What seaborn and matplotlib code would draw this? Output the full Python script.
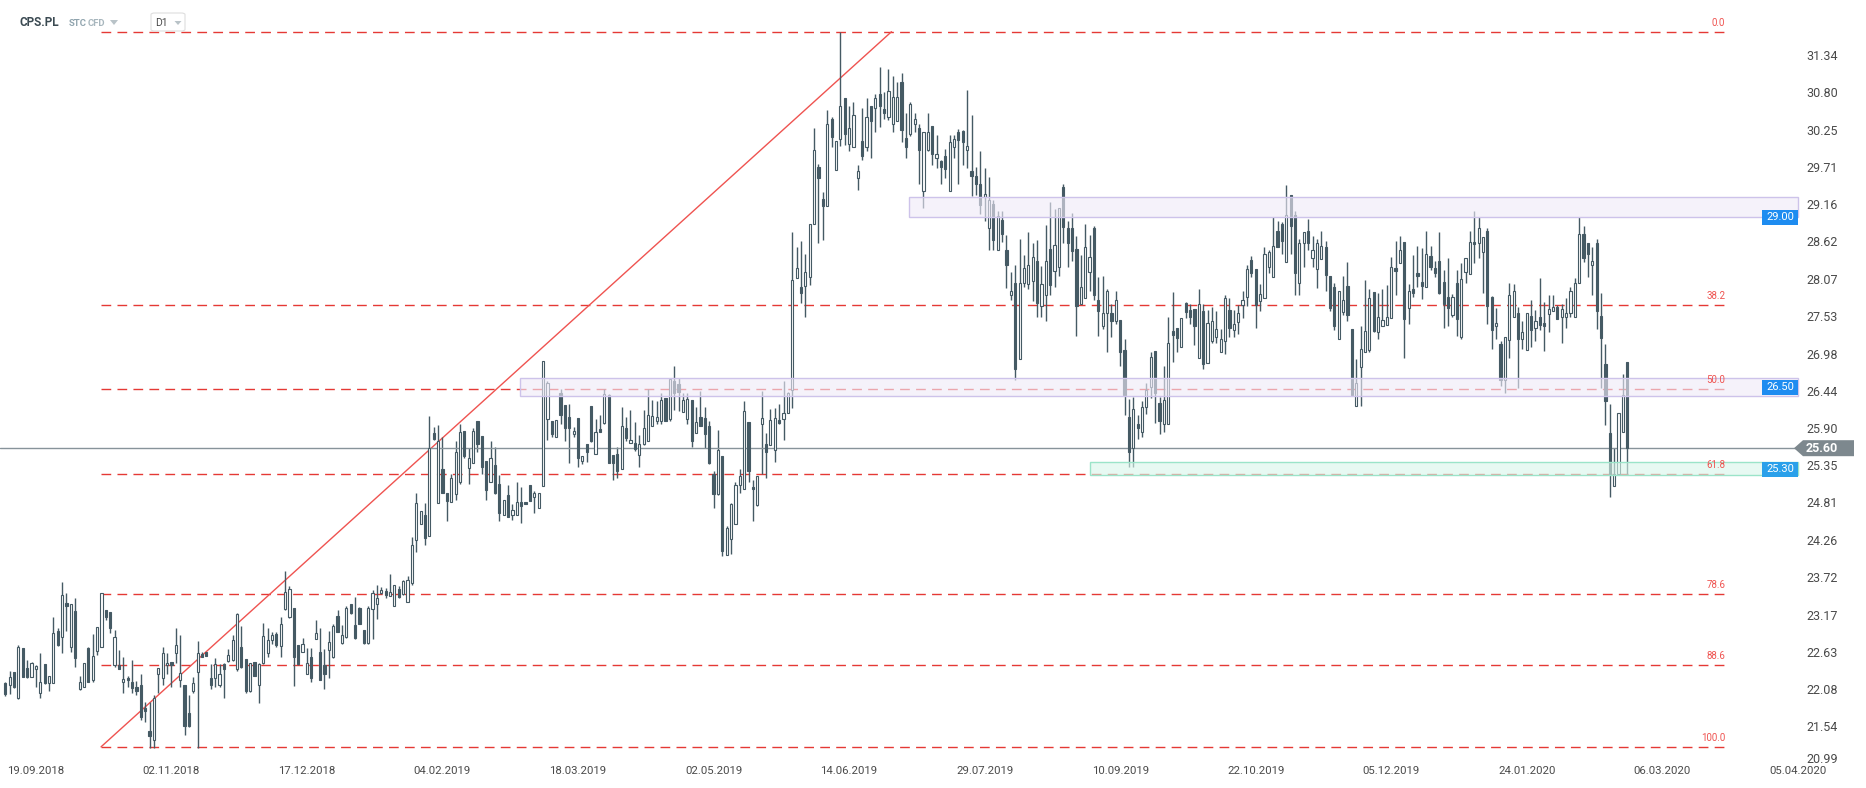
import numpy as np
import pandas as pd
import matplotlib
matplotlib.use("Agg")
import matplotlib.pyplot as plt
import matplotlib.transforms as mtransforms
from matplotlib.patches import Rectangle, Polygon, FancyBboxPatch
from matplotlib.colors import to_rgba
import seaborn as sns

# ---------------- data (daily candles, CPS.PL, D1) ----------------
opens = [
    22.17, 22.15, 22.33, 21.95, 22.68, 22.39, 22.26, 22.38, 22.02, 22.45,
    22.17, 22.17, 22.93, 22.84, 23.34, 22.70, 23.22, 22.08, 22.12, 22.68,
    22.21, 22.64, 22.70, 23.24, 23.21, 22.43, 22.44, 22.18, 22.24, 22.18,
    22.12, 22.14, 21.81, 21.47, 21.34, 22.31, 22.24, 22.43, 22.48, 22.61,
    22.21, 22.14, 21.73, 22.05, 22.33, 22.59, 22.63, 22.24, 22.24, 22.15,
    22.45, 22.49, 22.51, 22.37, 22.70, 22.52, 22.05, 22.48, 22.15, 22.46,
    22.61, 22.80, 22.89, 22.71, 23.25, 23.13, 23.26, 22.73, 22.63, 22.31,
    22.55, 22.82, 22.63, 22.43, 22.65, 22.55, 23.15, 22.75, 22.84, 23.32,
    23.02, 23.26, 22.95, 22.75, 23.25, 23.32, 23.49, 23.52, 23.44, 23.29,
    23.54, 23.47, 23.35,
    23.63, 24.26, 24.50, 24.63, 24.32, 25.82, 24.80, 25.29, 24.94, 24.82,
    24.93, 25.11, 25.85, 25.31, 25.39, 25.99, 25.78, 25.41, 25.10, 25.35,
    25.07, 24.62, 24.92, 24.62, 24.62, 24.81, 24.81, 25.06, 24.89, 24.73,
    25.05, 26.02, 25.99, 25.77, 26.41, 26.23, 26.06, 25.80, 26.04, 25.42,
    25.66, 26.22, 25.52, 25.88, 25.97, 26.37, 25.50, 25.51, 25.30, 25.90,
    25.68, 25.67, 25.50, 25.66, 25.70, 25.93, 25.99, 25.99, 26.33, 26.03,
    26.58, 26.54, 26.13, 26.02, 26.30, 25.82, 26.06, 26.04, 25.92, 25.23,
    24.93, 25.49, 24.04, 24.28, 24.49, 25.06, 25.01, 25.98, 25.03, 24.77,
    25.96, 25.66, 25.64, 25.58, 26.01, 26.03, 26.12,
    26.45, 28.09, 27.96, 27.97, 28.10, 28.87, 29.70, 29.24, 29.13, 30.41,
    29.66, 30.12, 30.71, 30.04, 30.00, 29.55, 30.08, 30.00, 30.60, 30.56,
    30.77, 30.55, 30.44, 30.33, 30.38, 30.94, 30.13, 30.19, 30.34, 30.28,
    29.35, 29.96, 30.30, 29.84, 29.79, 29.87, 29.35, 30.00, 30.21, 30.23,
    29.95, 29.65, 29.58, 29.46, 29.27, 28.81, 29.17, 28.49, 28.93, 28.50,
    27.83, 28.01, 26.90, 28.01, 27.99, 28.04, 28.33,
    27.67, 27.83, 28.51, 28.19, 28.25, 29.42, 28.81, 28.81, 28.51, 27.71,
    27.79, 28.17, 28.82, 27.77, 27.39, 27.57, 27.58, 27.45, 27.47, 27.03,
    26.05, 25.61, 25.95, 25.83, 26.20, 26.50, 27.02, 26.26, 25.96, 25.96,
    27.31, 27.35, 27.07, 27.72, 27.62, 27.63, 26.91, 27.61, 26.84, 27.16,
    27.23, 27.01, 27.16, 27.62, 27.32, 27.44, 27.69, 27.81, 28.35, 28.22,
    27.75, 27.79, 28.24, 28.10, 28.77, 28.87, 28.32, 29.29, 29.00, 28.01,
    28.59, 28.77, 28.37, 28.21, 28.36, 28.54, 28.12, 27.95,
    27.19, 27.59, 27.97, 27.34, 26.21, 26.78, 27.01, 27.03, 27.88, 27.29,
    27.39, 27.40, 27.50, 28.23, 28.30, 28.61, 27.64, 27.93, 28.16, 28.02,
    27.95, 28.40, 28.23, 28.33, 28.02, 27.80, 27.54, 28.01, 27.23, 28.17,
    28.15, 28.61, 28.59, 28.47, 28.77, 27.81, 27.39, 27.12, 26.59, 27.18,
    27.51, 27.57, 27.20, 27.04, 27.53, 27.35, 27.51, 27.43, 27.56, 27.60,
    27.66, 27.51, 27.51, 27.57, 27.51, 28.01, 28.72, 28.59, 28.27, 28.59,
    27.53, 26.83, 25.82, 25.05, 25.22, 25.83, 26.86,
]
highs = [
    22.18, 22.34, 22.33, 22.72, 22.69, 22.51, 22.48, 22.44, 22.61, 22.45,
    22.28, 23.14, 22.98, 23.65, 23.48, 23.32, 23.42, 22.28, 22.47, 22.70,
    22.89, 22.99, 23.49, 23.24, 23.21, 22.95, 22.65, 22.55, 22.27, 22.51,
    22.20, 22.31, 21.89, 21.89, 22.00, 22.39, 22.70, 22.61, 22.48, 22.98,
    22.87, 22.14, 22.00, 22.26, 22.78, 22.63, 22.63, 22.45, 22.54, 22.45,
    22.47, 22.67, 22.87, 23.20, 23.00, 22.52, 22.47, 22.48, 22.46, 23.05,
    22.98, 22.92, 22.91, 23.14, 23.80, 23.59, 23.26, 22.73, 22.83, 22.69,
    22.69, 23.09, 22.97, 22.67, 22.93, 23.03, 23.24, 23.02, 23.30, 23.32,
    23.43, 23.28, 22.95, 23.30, 23.53, 23.60, 23.58, 23.56, 23.77, 23.61,
    23.59, 23.68, 23.74,
    24.31, 24.94, 24.68, 24.80, 26.07, 25.91, 25.94, 25.77, 24.94, 25.23,
    25.71, 25.96, 25.85, 25.60, 25.90, 25.99, 25.78, 25.41, 25.71, 25.62,
    25.21, 24.84, 25.06, 24.78, 25.11, 25.04, 24.81, 25.06, 24.98, 24.95,
    26.87, 26.58, 25.99, 26.01, 26.46, 26.23, 26.24, 25.91, 26.04, 25.49,
    25.66, 26.22, 26.02, 26.09, 26.46, 26.39, 25.50, 25.62, 26.20, 26.05,
    26.16, 25.98, 25.79, 26.16, 26.46, 26.30, 26.29, 26.40, 26.33, 26.62,
    26.80, 26.63, 26.40, 26.40, 26.30, 26.20, 26.43, 26.20, 25.99, 25.26,
    25.87, 25.49, 24.47, 24.80, 25.11, 25.30, 26.29, 25.98, 25.13, 25.20,
    26.44, 25.82, 26.17, 26.19, 26.25, 26.58, 26.42,
    28.76, 28.53, 28.63, 28.44, 28.87, 30.28, 29.75, 29.34, 30.54, 30.44,
    30.09, 31.67, 30.71, 30.59, 30.65, 29.74, 30.56, 30.71, 30.60, 30.77,
    31.16, 30.80, 31.14, 31.03, 30.95, 31.07, 30.49, 30.65, 30.49, 30.33,
    30.21, 30.50, 30.31, 30.17, 29.80, 29.97, 30.17, 30.17, 30.26, 30.25,
    30.83, 30.47, 29.70, 29.94, 29.69, 29.56, 29.22, 29.06, 29.06, 28.71,
    28.17, 28.27, 28.65, 28.42, 28.76, 28.60, 28.64,
    28.26, 28.86, 29.20, 29.09, 29.10, 29.46, 28.92, 29.03, 28.70, 28.42,
    28.87, 28.71, 28.84, 28.10, 28.11, 27.92, 27.71, 27.90, 27.47, 27.19,
    26.32, 26.35, 26.08, 26.29, 26.55, 27.01, 27.02, 26.35, 26.80, 27.52,
    27.88, 27.35, 27.50, 27.73, 27.70, 27.63, 27.92, 27.71, 27.62, 27.66,
    27.60, 27.34, 27.83, 27.79, 27.62, 27.69, 27.90, 28.27, 28.40, 28.22,
    28.00, 28.53, 28.49, 28.98, 28.92, 28.90, 29.44, 29.29, 29.06, 28.65,
    28.75, 28.94, 28.70, 28.65, 28.77, 28.62, 28.12, 28.01,
    27.89, 28.11, 28.32, 27.34, 26.90, 27.38, 28.06, 27.93, 27.88, 27.86,
    27.93, 27.98, 28.39, 28.62, 28.70, 28.61, 28.00, 28.42, 28.55, 28.52,
    28.77, 28.55, 28.33, 28.75, 28.20, 28.38, 27.85, 28.20, 28.30, 28.37,
    28.77, 29.06, 28.98, 28.69, 28.81, 27.82, 27.65, 27.16, 27.23, 28.01,
    27.99, 27.66, 27.45, 27.57, 27.77, 27.62, 28.08, 27.73, 27.83, 27.83,
    27.69, 27.70, 27.79, 27.96, 28.08, 28.98, 28.84, 28.59, 28.54, 28.65,
    27.86, 27.12, 26.25, 25.60, 26.11, 26.68, 26.86,
]
lows = [
    21.98, 22.01, 22.10, 21.94, 22.26, 22.24, 22.26, 22.12, 21.96, 22.16,
    22.06, 22.17, 22.71, 22.61, 22.93, 22.62, 22.41, 22.07, 22.12, 22.18,
    22.18, 22.58, 22.70, 23.09, 22.90, 22.41, 22.37, 22.02, 22.12, 22.02,
    22.00, 21.63, 21.60, 21.22, 21.22, 22.03, 22.14, 22.31, 22.12, 22.46,
    22.12, 21.41, 21.53, 22.03, 21.23, 22.55, 22.56, 22.08, 22.12, 22.12,
    21.95, 22.48, 22.50, 22.35, 22.39, 22.03, 22.04, 22.27, 21.88, 22.45,
    22.55, 22.74, 22.70, 22.55, 23.24, 23.12, 22.13, 22.43, 22.62, 22.30,
    22.19, 22.81, 22.21, 22.08, 22.24, 22.54, 22.91, 22.74, 22.83, 23.18,
    22.81, 23.04, 22.74, 22.74, 22.81, 23.11, 23.47, 23.42, 23.44, 23.29,
    23.42, 23.46, 23.35,
    23.61, 24.09, 24.50, 24.18, 24.32, 25.72, 24.80, 24.94, 24.53, 24.82,
    24.84, 25.08, 25.46, 25.08, 25.39, 25.55, 25.23, 24.84, 25.10, 24.93,
    24.53, 24.62, 24.60, 24.55, 24.62, 24.51, 24.78, 24.83, 24.65, 24.73,
    25.05, 25.72, 25.76, 25.77, 25.95, 25.71, 25.38, 25.77, 25.33, 25.37,
    25.40, 25.69, 25.51, 25.84, 25.96, 25.39, 25.14, 25.17, 25.30, 25.70,
    25.67, 25.56, 25.32, 25.65, 25.70, 25.93, 25.96, 25.96, 25.99, 25.99,
    26.16, 26.15, 26.13, 25.96, 25.62, 25.82, 25.92, 25.60, 25.37, 24.72,
    24.92, 24.02, 24.04, 24.06, 24.49, 24.95, 25.00, 25.11, 24.53, 24.76,
    25.22, 25.16, 25.64, 25.40, 25.96, 25.72, 26.12,
    26.19, 28.09, 27.72, 27.52, 27.98, 28.87, 28.59, 28.64, 29.13, 30.00,
    29.66, 30.01, 30.02, 29.94, 30.00, 29.37, 29.80, 29.94, 29.83, 30.21,
    30.29, 30.40, 30.39, 30.22, 30.38, 30.07, 29.84, 30.16, 30.21, 29.45,
    29.10, 29.94, 29.73, 29.69, 29.45, 29.54, 29.35, 29.83, 29.45, 29.74,
    29.69, 29.28, 29.30, 29.02, 28.92, 28.49, 28.49, 28.49, 28.61, 27.94,
    27.76, 26.60, 26.90, 27.96, 27.93, 27.75, 27.52,
    27.51, 27.45, 27.83, 27.96, 28.12, 28.60, 28.25, 28.34, 27.24, 27.71,
    27.79, 27.89, 27.76, 27.24, 27.34, 27.01, 27.23, 27.41, 26.80, 26.08,
    25.32, 25.32, 25.73, 25.76, 26.10, 26.33, 25.97, 25.81, 25.84, 25.96,
    26.86, 27.01, 27.07, 27.50, 27.42, 27.11, 26.91, 26.76, 26.84, 27.13,
    27.13, 27.01, 26.97, 27.23, 27.23, 27.27, 27.50, 27.67, 28.10, 27.36,
    27.60, 27.79, 28.16, 28.10, 28.53, 28.43, 28.32, 28.43, 27.84, 27.83,
    28.25, 28.49, 28.25, 27.94, 28.36, 27.90, 27.61, 27.33,
    27.19, 27.55, 27.45, 26.37, 26.21, 26.22, 27.01, 27.01, 27.30, 27.19,
    27.39, 27.40, 27.50, 27.83, 28.30, 26.91, 27.41, 27.80, 27.96, 27.78,
    27.95, 28.20, 28.10, 27.85, 27.36, 27.39, 27.52, 27.24, 27.20, 28.01,
    28.15, 28.31, 28.37, 27.87, 27.41, 27.05, 27.20, 26.51, 26.41, 26.92,
    27.51, 26.48, 27.05, 27.04, 27.07, 27.16, 27.33, 27.02, 27.29, 27.60,
    27.49, 27.13, 27.36, 27.52, 27.51, 28.01, 28.32, 28.10, 27.83, 27.34,
    26.48, 25.94, 24.89, 25.05, 25.22, 25.83, 25.23,
]
closes = [
    22.01, 22.26, 22.12, 22.70, 22.26, 22.26, 22.46, 22.42, 22.18, 22.17,
    22.28, 22.90, 22.72, 23.45, 23.30, 23.32, 22.53, 22.19, 22.47, 22.18,
    22.56, 22.99, 23.48, 23.13, 22.98, 22.85, 22.37, 22.23, 22.21, 22.10,
    22.05, 21.67, 21.77, 21.40, 21.95, 22.39, 22.61, 22.46, 22.44, 22.72,
    22.32, 21.55, 21.55, 22.17, 22.61, 22.55, 22.56, 22.15, 22.45, 22.30,
    22.38, 22.58, 22.80, 23.18, 22.40, 22.05, 22.47, 22.28, 22.45, 22.86,
    22.80, 22.88, 22.72, 23.04, 23.50, 23.54, 22.55, 22.45, 22.74, 22.47,
    22.24, 22.90, 22.21, 22.31, 22.77, 23.00, 22.91, 22.88, 23.27, 23.19,
    22.83, 23.04, 22.76, 23.27, 23.48, 23.41, 23.53, 23.45, 23.50, 23.61,
    23.43, 23.66, 23.68,
    24.19, 24.80, 24.68, 24.29, 25.61, 25.73, 25.71, 24.95, 24.83, 25.16,
    25.54, 25.83, 25.48, 25.45, 25.85, 25.66, 25.32, 24.99, 25.45, 24.94,
    24.66, 24.84, 24.60, 24.70, 24.81, 24.76, 24.78, 24.83, 24.95, 24.95,
    26.87, 26.55, 25.81, 26.01, 26.08, 25.90, 25.90, 25.85, 25.46, 25.49,
    25.55, 25.70, 25.83, 25.84, 26.39, 25.39, 25.39, 25.27, 25.92, 25.75,
    25.72, 25.59, 25.66, 25.89, 26.09, 26.07, 26.06, 26.30, 25.99, 26.61,
    26.41, 26.42, 26.30, 26.32, 25.70, 25.98, 25.93, 25.81, 25.38, 24.93,
    25.57, 24.10, 24.43, 24.78, 25.06, 25.20, 26.14, 25.26, 25.00, 25.19,
    26.04, 25.55, 26.01, 26.04, 25.97, 26.11, 26.40,
    28.06, 28.23, 27.86, 28.17, 28.87, 29.96, 29.55, 29.13, 30.34, 30.15,
    30.09, 30.60, 30.19, 30.28, 30.46, 29.64, 29.87, 30.44, 30.37, 30.71,
    30.59, 30.50, 30.82, 30.72, 30.72, 30.25, 29.99, 30.63, 30.40, 29.95,
    30.21, 30.21, 29.90, 29.89, 29.71, 29.68, 30.07, 30.12, 30.10, 30.07,
    30.01, 29.58, 29.45, 29.15, 29.31, 29.22, 28.64, 28.99, 28.73, 28.27,
    27.90, 26.75, 28.01, 28.23, 28.27, 28.39, 27.72,
    27.99, 28.33, 27.98, 28.57, 29.10, 28.83, 28.59, 28.48, 27.67, 27.95,
    28.53, 28.39, 27.83, 27.61, 27.58, 27.89, 27.45, 27.77, 27.01, 26.37,
    25.54, 26.17, 25.90, 26.20, 26.45, 26.93, 26.41, 25.99, 26.30, 27.13,
    27.25, 27.21, 27.50, 27.59, 27.51, 27.39, 27.71, 26.83, 27.43, 27.45,
    27.34, 27.20, 27.79, 27.35, 27.41, 27.58, 27.77, 28.22, 28.16, 27.69,
    27.85, 28.44, 28.47, 28.55, 28.54, 28.63, 29.00, 28.85, 28.16, 28.59,
    28.75, 28.59, 28.50, 28.59, 28.55, 28.13, 27.65, 27.39,
    27.89, 27.77, 27.54, 26.37, 26.55, 27.05, 27.31, 27.79, 27.31, 27.51,
    27.47, 27.52, 28.25, 28.19, 28.50, 27.48, 27.89, 27.86, 28.12, 27.97,
    28.43, 28.25, 28.16, 27.87, 27.70, 27.65, 27.80, 27.48, 28.07, 28.37,
    28.61, 28.58, 28.81, 28.69, 27.67, 27.32, 27.43, 26.59, 27.23, 27.83,
    27.90, 27.19, 27.30, 27.57, 27.33, 27.46, 27.40, 27.39, 27.63, 27.66,
    27.49, 27.63, 27.57, 27.90, 28.01, 28.72, 28.38, 28.43, 28.33, 27.61,
    27.21, 26.29, 25.22, 25.23, 26.11, 26.37, 25.60,
]

date_labels = ["19.09.2018", "02.11.2018", "17.12.2018", "04.02.2019", "18.03.2019",
               "02.05.2019", "14.06.2019", "29.07.2019", "10.09.2019", "22.10.2019",
               "05.12.2019", "24.01.2020", "06.03.2020", "05.04.2020"]
date_bar_index = [7, 38, 69, 100, 131, 162, 193, 224, 255, 286, 317, 348, 379, 410]

ytick_labels = ["20.99", "21.54", "22.08", "22.63", "23.17", "23.72", "24.26", "24.81",
                "25.35", "25.90", "26.44", "26.98", "27.53", "28.07", "28.62", "29.16",
                "29.71", "30.25", "30.80", "31.34"]

fib_ratios = [0.0, 38.2, 50.0, 61.8, 78.6, 88.6, 100.0]
fib_high, fib_low = 31.68, 21.24
fib_anchor_low_bar, fib_anchor_high_bar = 21.9, 202.7
fib_line_end_bar = 393.6

zone_low = [28.98, 26.36, 25.21]
zone_high = [29.26, 26.63, 25.40]
zone_start_bar = [206.7, 117.7, 248.1]
zone_tag = ["29.00", "26.50", "25.30"]
zone_tag_value = [28.97, 26.49, 25.29]

last_price = 25.60

assert len(opens) == len(highs) == len(lows) == len(closes), (len(opens), len(highs), len(lows), len(closes))

# ---------------- styling ----------------
sns.set_theme(style="white")
plt.rcParams['font.family'] = ['Roboto', 'DejaVu Sans']

W, H = 1866, 788
fig = plt.figure(figsize=(W / 100, H / 100), dpi=100)
fig.patch.set_facecolor("white")
ax = fig.add_axes([0, 23 / H, 1800 / W, 765 / H])
ax.set_facecolor("white")

XMIN, XMAX = -1.21, 410.5
ax.set_xlim(XMIN, XMAX)
ax.set_ylim(20.975, 32.143)

CANDLE = "#455a64"
df = pd.DataFrame({"o": opens, "h": highs, "l": lows, "c": closes})
df["x"] = np.arange(len(df))
up = df["c"] >= df["o"]
body_bottom = np.minimum(df["o"], df["c"])
body_h = np.maximum((df["c"] - df["o"]).abs(), 0.02)

ax.vlines(df["x"], df["l"], df["h"], color=CANDLE, lw=1.0, zorder=2)
ax.bar(df["x"][up], body_h[up], bottom=body_bottom[up], width=0.5,
       color="white", edgecolor=CANDLE, linewidth=0.8, zorder=3)
ax.bar(df["x"][~up], body_h[~up], bottom=body_bottom[~up], width=0.5,
       color=CANDLE, edgecolor=CANDLE, linewidth=0.8, zorder=3)

# fibonacci levels
FIB_RED = "#e53935"
for r in fib_ratios:
    lvl = fib_high - r / 100.0 * (fib_high - fib_low)
    ax.hlines(lvl, fib_anchor_low_bar, fib_line_end_bar, colors=FIB_RED,
              linestyles=(0, (7, 4.5)), lw=1.0, zorder=1)
    ax.text(fib_line_end_bar - 0.2, lvl + 0.06, f"{r:.1f}", ha="right", va="bottom",
            color="#ef5350", fontsize=7, zorder=6)

# diagonal of the fib tool
sns.lineplot(x=[fib_anchor_low_bar, fib_anchor_high_bar], y=[fib_low, fib_high],
             ax=ax, color="#ef5350", lw=1.0, zorder=1.5)

# zones
zone_styles = [("#efeaf8", "#cdc3ea"), ("#efeaf8", "#cdc3ea"), ("#d9f6ea", "#9be4c9")]
for lo, hi, x0, (fc, ec) in zip(zone_low, zone_high, zone_start_bar, zone_styles):
    ax.add_patch(Rectangle((x0, lo), XMAX - x0 - 0.45, hi - lo,
                           facecolor=to_rgba(fc, 0.62), edgecolor=ec, lw=1.0, zorder=4))

# zone tags on the right
for tag, val, col in zip(zone_tag, zone_tag_value, ["#1e8cf0", "#1e8cf0", "#2aa0ea"]):
    ax.add_patch(Rectangle((401.8, val - 0.11), XMAX - 401.8 - 0.45, 0.22,
                           facecolor=col, edgecolor="none", zorder=7))
    ax.text((401.8 + XMAX - 0.45) / 2, val, tag, ha="center", va="center",
            color="white", fontsize=8, zorder=8)

# last price line + marker
ax.axhline(last_price, color="#87939a", lw=1.0, zorder=2.5)
trans = mtransforms.blended_transform_factory(ax.transAxes, ax.transData)
px = 1.0 / 1800
hh = 8.0 / 68.5
ax.add_patch(Polygon([(1 - 6 * px, last_price), (1 + 3 * px, last_price + hh),
                      (1 + 54 * px, last_price + hh), (1 + 54 * px, last_price - hh),
                      (1 + 3 * px, last_price - hh)], closed=True, transform=trans,
                     clip_on=False, facecolor="#7d888e", edgecolor="none", zorder=10))
ax.text(1 + 6 * px, last_price, f"{last_price:.2f}", transform=trans, color="white",
        fontweight="bold", fontsize=9, ha="left", va="center", clip_on=False, zorder=11)

# axes
ax.grid(False)
for s in ax.spines.values():
    s.set_visible(False)
ax.yaxis.tick_right()
ax.set_yticks([float(s) for s in ytick_labels])
ax.set_yticklabels(ytick_labels)
ax.tick_params(axis="y", length=0, pad=4.5, labelsize=9, labelcolor="#4a4a4a")
ax.set_xticks(date_bar_index)
ax.set_xticklabels(date_labels)
ax.tick_params(axis="x", length=0, pad=1.0, labelsize=8.2, labelcolor="#4a4a4a")
ax.set_xlabel("")
ax.set_ylabel("")
lbl0 = ax.get_yticklabels()[0]
lbl0.set_transform(lbl0.get_transform() + mtransforms.ScaledTranslation(0, 6 / 100, fig.dpi_scale_trans))

# header (instrument / interval widgets)
fx = lambda p: p / W
fy = lambda p: 1 - p / H
fig.text(fx(20), fy(23), "CPS.PL", fontsize=8.5, fontweight="bold", color="#3b4a52", va="center", ha="left")
fig.text(fx(69), fy(23), "STC", fontsize=6.8, fontweight="bold", color="#90a4ae", va="center", ha="left")
fig.text(fx(88), fy(23), "CFD", fontsize=6.8, fontweight="bold", color="#a7b6bd", va="center", ha="left")
fig.patches.append(Polygon([(fx(110), fy(20)), (fx(118), fy(20)), (fx(114), fy(25))],
                           closed=True, transform=fig.transFigure, facecolor="#b9c3c8", edgecolor="none"))
fig.patches.append(FancyBboxPatch((fx(151), fy(31)), fx(34), 18 / H,
                                  boxstyle="round,pad=0,rounding_size=0.002",
                                  transform=fig.transFigure, facecolor="white",
                                  edgecolor="#dedede", lw=0.8))
fig.text(fx(155), fy(23), "D1", fontsize=7.5, color="#4a4a4a", va="center", ha="left")
fig.patches.append(Polygon([(fx(174.5), fy(21)), (fx(181.5), fy(21)), (fx(178), fy(25))],
                           closed=True, transform=fig.transFigure, facecolor="#b9c3c8", edgecolor="none"))

fig.savefig("out.png", dpi=100, facecolor="white")
